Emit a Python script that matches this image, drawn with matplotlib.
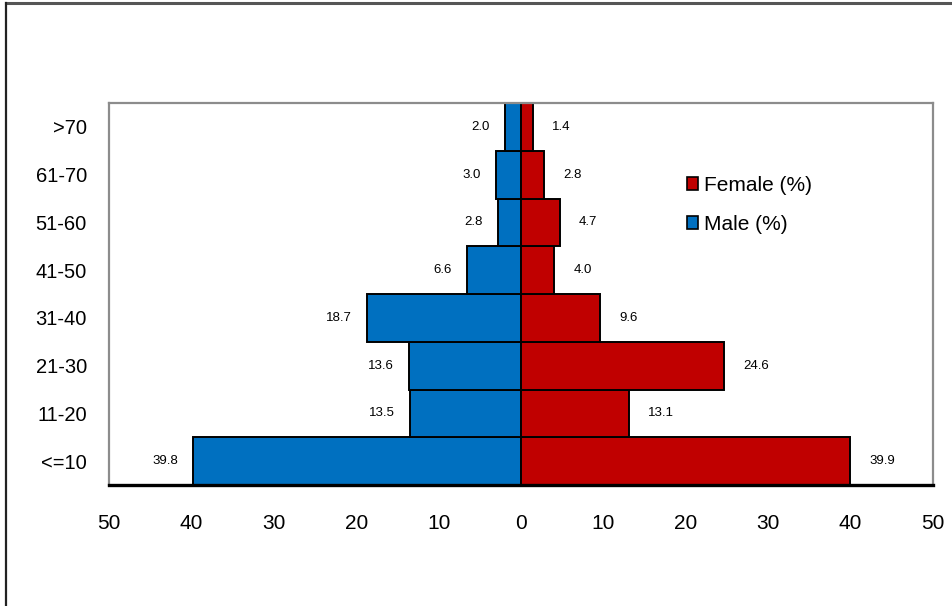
import matplotlib
matplotlib.use("Agg")
import matplotlib.pyplot as plt
from matplotlib.lines import Line2D
from matplotlib.patches import Patch

plt.rcParams['font.family'] = ['Liberation Sans', 'DejaVu Sans']

age_groups = ["<=10", "11-20", "21-30", "31-40", "41-50", "51-60", "61-70", ">70"]
male_pct = [39.8, 13.5, 13.6, 18.7, 6.6, 2.8, 3.0, 2.0]
female_pct = [39.9, 13.1, 24.6, 9.6, 4.0, 4.7, 2.8, 1.4]
x_ticks = [-50, -40, -30, -20, -10, 0, 10, 20, 30, 40, 50]

male_color = "#0070C0"
female_color = "#C00000"

W, H = 953, 606
fig = plt.figure(figsize=(W / 100, H / 100), dpi=100)

# outer chart frame (top and left edges)
fig.add_artist(Line2D([6 / W, 1.0], [1 - 3 / H, 1 - 3 / H], color="#555555", lw=2.2,
                      transform=fig.transFigure))
fig.add_artist(Line2D([6 / W, 6 / W], [0, 1 - 3 / H], color="#222222", lw=1.6,
                      transform=fig.transFigure))

left, right, top, bottom = 109, 933, 103, 485
ax = fig.add_axes([left / W, 1 - bottom / H, (right - left) / W, (bottom - top) / H])

y = list(range(len(age_groups)))
ax.barh(y, [-v for v in male_pct], height=1.0, color=male_color,
        edgecolor="black", linewidth=1.4, label="Male (%)", zorder=2)
ax.barh(y, female_pct, height=1.0, color=female_color,
        edgecolor="black", linewidth=1.4, label="Female (%)", zorder=2)

for yi, v in zip(y, male_pct):
    ax.annotate(f"{v:.1f}", xy=(-v, yi), xytext=(-11, 0), textcoords="offset points",
                ha="right", va="center", fontsize=9.5)
for yi, v in zip(y, female_pct):
    ax.annotate(f"{v:.1f}", xy=(v, yi), xytext=(14, 0), textcoords="offset points",
                ha="left", va="center", fontsize=9.5)

ax.set_xlim(-50, 50)
ax.set_ylim(-0.5, len(age_groups) - 0.5)
ax.set_xticks(x_ticks)
ax.set_xticklabels([str(abs(t)) for t in x_ticks], fontsize=15)
ax.set_yticks(y)
ax.set_yticklabels(age_groups, fontsize=14.5)
ax.tick_params(axis="both", length=0)
ax.tick_params(axis="x", pad=21)
ax.tick_params(axis="y", pad=16)

for side in ("left", "top", "right"):
    ax.spines[side].set_color("#8c8c8c")
    ax.spines[side].set_linewidth(1.6)
ax.spines["bottom"].set_color("black")
ax.spines["bottom"].set_linewidth(2.4)

handles = [Patch(facecolor=female_color, edgecolor="black", linewidth=1.2),
           Patch(facecolor=male_color, edgecolor="black", linewidth=1.2)]
ax.legend(handles, ["Female (%)", "Male (%)"], loc="upper left",
          bbox_to_anchor=((687 - left) / (right - left), 1 - (176 - top) / (bottom - top)),
          frameon=False, fontsize=15, handlelength=0.55, handleheight=0.55,
          handletextpad=0.25, labelspacing=0.95, borderaxespad=0, borderpad=0)

fig.savefig("out.png", dpi=100)
